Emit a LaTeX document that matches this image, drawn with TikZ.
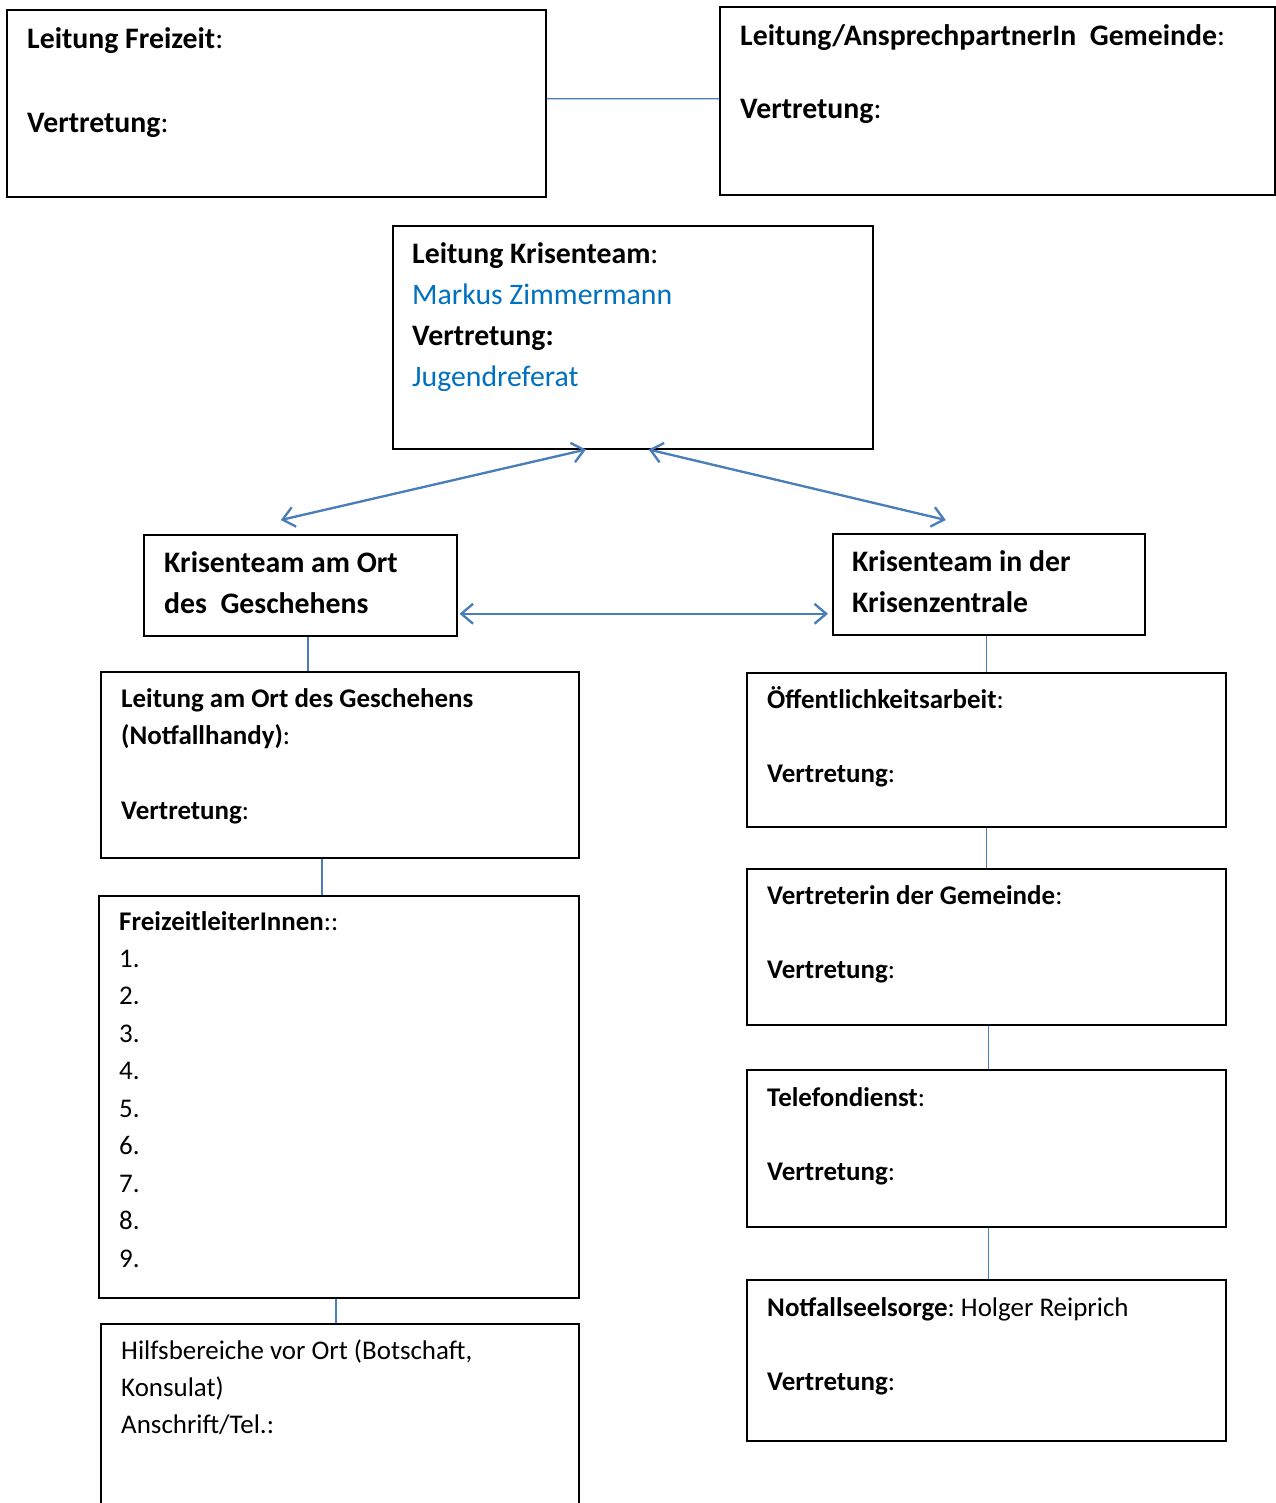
\documentclass[tikz,border=0pt]{standalone}
\usepackage{fontspec}
\setmainfont{Carlito}
\frenchspacing
\usetikzlibrary{arrows.meta}

\definecolor{linkblue}{HTML}{4A7EBB}
\definecolor{nameblue}{HTML}{0070C0}

\tikzset{
    >={Straight Barb[length=10pt,width=17pt]},
    box/.style={draw, line width=1.3pt, anchor=north west, inner sep=0pt},
    bigtext/.style={anchor=base west, align=flush left, text width=15cm, inner sep=0pt,
        font=\fontsize{25.4}{35.85}\selectfont},
    midtext/.style={anchor=base west, align=flush left, text width=15cm, inner sep=0pt,
        font=\fontsize{25.4}{35.2}\selectfont},
    smalltext/.style={anchor=base west, align=flush left, text width=15cm, inner sep=0pt,
        font=\fontsize{23}{32}\selectfont},
    link/.style={linkblue, line width=1pt},
    twoway/.style={linkblue, line width=2pt, <->},
}

\begin{document}
\begin{tikzpicture}[x=0.03cm, y=-0.03cm]
    \useasboundingbox (0,0) rectangle (1275,1503);

    % top row
    \node[box, minimum width=539*0.03cm, minimum height=187*0.03cm] (lf) at (6,9) {};
    \node[bigtext] (lftext) at (27,48) {\textbf{Leitung Freizeit}:\\[\baselineskip]\textbf{Vertretung}:};
    \node[box, minimum width=555*0.03cm, minimum height=188*0.03cm] (gem) at (719,6) {};
    \node[bigtext, font=\fontsize{25.4}{31.4}\selectfont] (gemtext) at (740,45)
        {\textbf{Leitung/AnsprechpartnerIn\ \ Gemeinde}:\\[\baselineskip]\textbf{Vertretung}:};
    \draw[link] ([yshift=3.8pt]lf.east) -- ([yshift=1.7pt]gem.west);

    % Krisenteam
    \node[box, minimum width=480*0.03cm, minimum height=223*0.03cm] (kt) at (392,225) {};
    \node[midtext] (kttext) at (412,263) {\textbf{Leitung Krisenteam}:\\
        \textcolor{nameblue}{Markus Zimmermann}\\
        \textbf{Vertretung:}\\
        \textcolor{nameblue}{Jugendreferat}};

    \node[box, minimum width=313*0.03cm, minimum height=101*0.03cm] (ort) at (143,534) {};
    \node[midtext] (orttext) at (164,572) {\textbf{Krisenteam am Ort}\\\textbf{des\ \ Geschehens}};
    \node[box, minimum width=312*0.03cm, minimum height=101*0.03cm] (zen) at (832,533) {};
    \node[midtext] (zentext) at (852,571) {\textbf{Krisenteam in der}\\\textbf{Krisenzentrale}};

    \draw[twoway] ([xshift=-40pt]kt.south) -- ([shift={(-19.5,-14)}]ort.north);
    \draw[twoway] ([xshift=13.6pt]kt.south) -- ([shift={(-43,-13)}]zen.north);
    \draw[twoway] ([shift={(2,28.5)}]ort.east) -- ([shift={(-4,29.5)}]zen.west);

    % left column
    \node[box, minimum width=478*0.03cm, minimum height=186*0.03cm] (leit) at (100,671) {};
    \node[smalltext] (leittext) at (121,707) {\textbf{Leitung am Ort des Geschehens}\\
        \textbf{(Notfallhandy)}:\\[\baselineskip]\textbf{Vertretung}:};
    \node[box, minimum width=480*0.03cm, minimum height=402*0.03cm] (fzl) at (98,895) {};
    \node[smalltext] (fzltext) at (119,930) {\textbf{FreizeitleiterInnen}::\\
        1.\\2.\\3.\\4.\\5.\\6.\\7.\\8.\\9.};
    \node[box, minimum width=478*0.03cm, minimum height=220*0.03cm] (hilfe) at (100,1323) {};
    \node[smalltext] (hilfetext) at (121,1359) {Hilfsbereiche vor Ort (Botschaft,\\
        Konsulat)\\Anschrift/Tel.:};

    \draw[link] (ort.south -| 308,0) -- (leit.north -| 308,0);
    \draw[link] (leit.south -| 322,0) -- (fzl.north -| 322,0);
    \draw[link] (fzl.south -| 336,0) -- (hilfe.north -| 336,0);

    % right column
    \node[box, minimum width=479*0.03cm, minimum height=154*0.03cm] (oeff) at (746,672) {};
    \node[smalltext] (oefftext) at (767,708) {\textbf{Öffentlichkeitsarbeit}:\\[\baselineskip]\textbf{Vertretung}:};
    \node[box, minimum width=479*0.03cm, minimum height=156*0.03cm] (vgem) at (746,868) {};
    \node[smalltext] (vgemtext) at (767,904) {\textbf{Vertreterin der Gemeinde}:\\[\baselineskip]\textbf{Vertretung}:};
    \node[box, minimum width=479*0.03cm, minimum height=157*0.03cm] (tel) at (746,1069) {};
    \node[smalltext] (teltext) at (767,1106) {\textbf{Telefondienst}:\\[\baselineskip]\textbf{Vertretung}:};
    \node[box, minimum width=479*0.03cm, minimum height=161*0.03cm] (nfs) at (746,1279) {};
    \node[smalltext] (nfstext) at (767,1316) {\textbf{Notfallseelsorge}: Holger Reiprich\\[\baselineskip]\textbf{Vertretung}:};

    \draw[link] (zen.south -| oeff.north) -- (oeff.north);
    \draw[link] (oeff.south) -- (vgem.north);
    \draw[link] ([xshift=2pt]vgem.south) -- ([xshift=2pt]tel.north);
    \draw[link] ([xshift=2pt]tel.south) -- ([xshift=2pt]nfs.north);
\end{tikzpicture}
\end{document}
